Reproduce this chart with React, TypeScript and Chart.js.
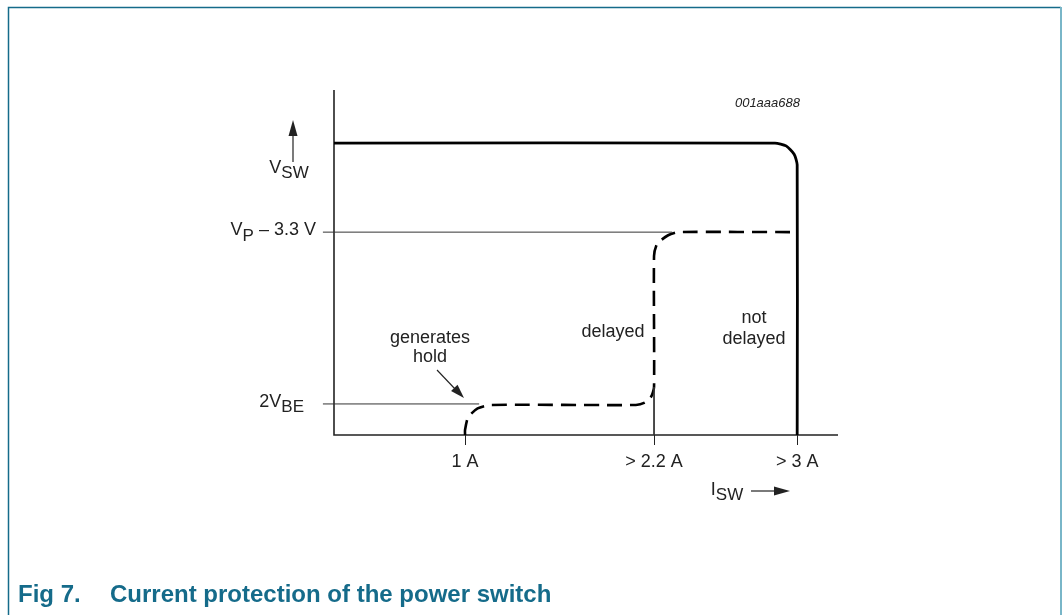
import React, { useEffect, useRef } from "react";
import { Chart, registerables } from "chart.js";

Chart.register(...registerables);

// ---- data (schematic units: x 0..100 along I_SW axis, y 0..100 along V_SW axis) ----
const xTickValues = [26.0, 63.5, 91.9];
const xTickLabels = ["1 A", "> 2.2 A", "> 3 A"];
const yTickValues = [9.0, 58.8];
const yTickLabels: [string, string, string][] = [
  ["2V", "BE", ""],
  ["V", "P", " \u2013 3.3 V"],
];
const yLabelGaps = [30, 18];

// solid "not delayed" curve
const solidX = [0, 87.5, 89.7, 91.3, 91.9, 91.9];
const solidY = [84.6, 84.6, 83.8, 81.4, 78.3, 0];

// dashed "delayed" curve
const dashedX = [26.0, 26.0, 26.6, 28.5, 31.0, 59.9, 61.7, 63.0, 63.5, 63.5, 64.1, 66.3, 68.3, 91.9];
const dashedY = [0, 1.45, 5.1, 7.7, 8.7, 8.7, 9.4, 11.3, 13.9, 51.9, 55.4, 57.9, 58.8, 58.8];

// reference (level) lines
const refVbeX = [-2.2, 28.8];
const refVbeY = [9.0, 9.0];
const refVpX = [-2.2, 67.1];
const refVpY = [58.8, 58.8];
const dropX = [63.5, 63.5];
const dropY = [13.9, 0];

const FONT = "'Liberation Sans', Arial, Helvetica, sans-serif";
const TEAL = "#156b8a";
const LABEL_SIZE = 18;

function pts(xs: number[], ys: number[]) {
  return xs.map((v, i) => ({ x: v, y: ys[i] }));
}

function drawSub(
  ctx: CanvasRenderingContext2D,
  x: number,
  y: number,
  main: string,
  sub: string,
  tail: string,
  align: "left" | "right" | "center",
  size: number
) {
  const mainFont = `${size}px ${FONT}`;
  const subFont = `${Math.round(size * 0.92)}px ${FONT}`;
  ctx.font = mainFont;
  const w1 = ctx.measureText(main).width;
  const w3 = ctx.measureText(tail).width;
  ctx.font = subFont;
  const w2 = ctx.measureText(sub).width;
  const total = w1 + w2 + w3;
  let sx = x;
  if (align === "right") sx = x - total;
  else if (align === "center") sx = x - total / 2;
  ctx.textAlign = "left";
  ctx.textBaseline = "middle";
  ctx.font = mainFont;
  ctx.fillText(main, sx, y);
  ctx.font = subFont;
  ctx.fillText(sub, sx + w1, y + size * 0.32);
  ctx.font = mainFont;
  ctx.fillText(tail, sx + w1 + w2, y);
}

function arrowHead(ctx: CanvasRenderingContext2D, tx: number, ty: number, angle: number, len: number, half: number) {
  ctx.save();
  ctx.translate(tx, ty);
  ctx.rotate(angle);
  ctx.beginPath();
  ctx.moveTo(0, 0);
  ctx.lineTo(-len, -half);
  ctx.lineTo(-len, half);
  ctx.closePath();
  ctx.fill();
  ctx.restore();
}

const decorations = {
  id: "decorations",
  beforeDatasetsDraw(chart: any) {
    const { ctx, chartArea } = chart;
    const { left, right, top, bottom } = chartArea;
    const xs = chart.scales.x;
    ctx.save();
    // frame
    ctx.strokeStyle = TEAL;
    ctx.lineWidth = 1.5;
    ctx.beginPath();
    ctx.moveTo(8.5, 615);
    ctx.lineTo(8.5, 7.5);
    ctx.lineTo(1061, 7.5);
    ctx.stroke();
    ctx.strokeStyle = "#79b6c8";
    ctx.lineWidth = 2;
    ctx.beginPath();
    ctx.moveTo(1061, 7);
    ctx.lineTo(1061, 615);
    ctx.stroke();
    // axes
    ctx.strokeStyle = "#222";
    ctx.lineWidth = 1.6;
    ctx.beginPath();
    ctx.moveTo(left, top);
    ctx.lineTo(left, bottom);
    ctx.lineTo(right, bottom);
    ctx.stroke();
    // x tick marks
    ctx.lineWidth = 1;
    ctx.strokeStyle = "#222";
    xTickValues.forEach((v) => {
      const px = Math.round(xs.getPixelForValue(v)) + 0.5;
      ctx.beginPath();
      ctx.moveTo(px, bottom);
      ctx.lineTo(px, bottom + 10);
      ctx.stroke();
    });
    ctx.restore();
  },
  afterDraw(chart: any) {
    const { ctx, chartArea } = chart;
    const { left, bottom } = chartArea;
    const xs = chart.scales.x;
    const ys = chart.scales.y;
    ctx.save();
    ctx.fillStyle = "#222";
    ctx.strokeStyle = "#222";
    // x tick labels
    ctx.font = `${LABEL_SIZE}px ${FONT}`;
    ctx.textAlign = "center";
    ctx.textBaseline = "middle";
    xTickValues.forEach((v, i) => {
      ctx.fillText(xTickLabels[i], xs.getPixelForValue(v), bottom + 27);
    });
    // y labels
    yTickValues.forEach((v, i) => {
      const [m, s, t] = yTickLabels[i];
      drawSub(ctx, left - yLabelGaps[i], ys.getPixelForValue(v) - 2, m, s, t, "right", LABEL_SIZE);
    });
    // V_SW with arrow
    drawSub(ctx, 289, 168, "V", "SW", "", "center", LABEL_SIZE);
    ctx.lineWidth = 1.2;
    ctx.beginPath();
    ctx.moveTo(293, 162);
    ctx.lineTo(293, 134);
    ctx.stroke();
    arrowHead(ctx, 293, 120, -Math.PI / 2, 16, 4.5);
    // I_SW with arrow
    drawSub(ctx, 727, 490, "I", "SW", "", "center", LABEL_SIZE);
    ctx.beginPath();
    ctx.moveTo(751, 491);
    ctx.lineTo(777, 491);
    ctx.stroke();
    arrowHead(ctx, 790, 491, 0, 16, 4.5);
    // annotations
    ctx.font = `${LABEL_SIZE}px ${FONT}`;
    ctx.textAlign = "center";
    ctx.textBaseline = "middle";
    ctx.fillText("generates", 430, 338);
    ctx.fillText("hold", 430, 357);
    ctx.fillText("delayed", 613, 332);
    ctx.fillText("not", 754, 318);
    ctx.fillText("delayed", 754, 339);
    // hold arrow
    ctx.lineWidth = 1.1;
    ctx.beginPath();
    ctx.moveTo(437, 370);
    ctx.lineTo(456, 390);
    ctx.stroke();
    arrowHead(ctx, 464, 398, Math.atan2(28, 27), 14, 4.5);
    // figure code
    ctx.font = `italic 13px ${FONT}`;
    ctx.textAlign = "right";
    ctx.fillText("001aaa688", 800, 103);
    // caption
    ctx.fillStyle = TEAL;
    ctx.font = `bold 24px ${FONT}`;
    ctx.textAlign = "left";
    ctx.fillText("Fig 7.", 18, 595);
    ctx.fillText("Current protection of the power switch", 110, 595);
    ctx.restore();
  },
};

export default function App() {
  const ref = useRef<HTMLCanvasElement | null>(null);
  useEffect(() => {
    if (!ref.current) return;
    const thin = { borderColor: "#333", borderWidth: 1, pointRadius: 0, clip: false as any, tension: 0 };
    const chart = new Chart(ref.current, {
      type: "line",
      data: {
        datasets: [
          { label: "VBE level", data: pts(refVbeX, refVbeY), ...thin },
          { label: "VP level", data: pts(refVpX, refVpY), ...thin },
          { label: "2.2 A drop", data: pts(dropX, dropY), ...thin },
          {
            label: "not delayed",
            data: pts(solidX, solidY),
            borderColor: "#000",
            borderWidth: 2.8,
            pointRadius: 0,
            tension: 0.2,
            borderJoinStyle: "round",
            clip: false as any,
          },
          {
            label: "delayed",
            data: pts(dashedX, dashedY),
            borderColor: "#000",
            borderWidth: 2.6,
            borderDash: [15, 8],
            borderCapStyle: "butt",
            borderJoinStyle: "round",
            pointRadius: 0,
            tension: 0.2,
            clip: false as any,
          },
        ],
      },
      options: {
        animation: false,
        responsive: false,
        devicePixelRatio: 1,
        parsing: true,
        layout: { padding: { left: 334, top: 90, right: 225, bottom: 180 } },
        plugins: { legend: { display: false }, tooltip: { enabled: false } },
        scales: {
          x: { type: "linear", min: 0, max: 100, display: false },
          y: { type: "linear", min: 0, max: 100, display: false },
        },
      },
      plugins: [decorations],
    });
    return () => chart.destroy();
  }, []);
  return (
    <div style={{ position: "fixed", left: 0, top: 0, width: 1063, height: 615, background: "#fff" }}>
      <canvas ref={ref} width={1063} height={615} style={{ display: "block" }} />
    </div>
  );
}
